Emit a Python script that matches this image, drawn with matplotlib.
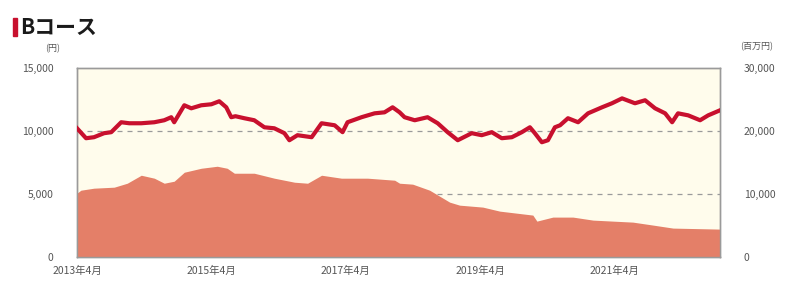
import pandas as pd
import matplotlib
matplotlib.use("Agg")
import matplotlib.pyplot as plt
from matplotlib.patches import Rectangle

plt.rcParams["font.family"] = ["Noto Sans CJK JP", "DejaVu Sans"]

# NAV (left axis, yen)
nav_dates = ["2013-04-01", "2013-05-20", "2013-07-02", "2013-08-26", "2013-10-04",
             "2013-11-27", "2014-01-10", "2014-03-16", "2014-05-26", "2014-07-19",
             "2014-08-26", "2014-09-11", "2014-11-05", "2014-12-13", "2015-02-05",
             "2015-04-01", "2015-05-14", "2015-06-21", "2015-07-18", "2015-08-10",
             "2015-09-27", "2015-11-20", "2016-01-14", "2016-03-08", "2016-05-02",
             "2016-05-29", "2016-07-12", "2016-09-27", "2016-11-20", "2017-01-30",
             "2017-03-14", "2017-04-10", "2017-06-25", "2017-09-04", "2017-10-28",
             "2017-12-11", "2018-01-18", "2018-02-14", "2018-04-10", "2018-06-19",
             "2018-08-13", "2018-10-06", "2018-11-30", "2019-02-14", "2019-04-09",
             "2019-06-03", "2019-07-27", "2019-09-20", "2019-11-13", "2019-12-27",
             "2020-01-23", "2020-03-01", "2020-04-03", "2020-05-11", "2020-06-08",
             "2020-07-21", "2020-09-14", "2020-11-07", "2021-01-22", "2021-03-17",
             "2021-05-11", "2021-07-20", "2021-09-13", "2021-11-06", "2021-12-31",
             "2022-02-07", "2022-03-11", "2022-05-05", "2022-07-09", "2022-08-22",
             "2022-10-25"]
nav_values = [10240, 9450, 9530, 9850, 9930, 10720, 10640, 10640, 10720, 10880,
              11120, 10720, 12070, 11830, 12070, 12150, 12390, 11910, 11120, 11200,
              11040, 10880, 10320, 10240, 9850, 9290, 9690, 9530, 10640, 10480,
              9930, 10720, 11120, 11430, 11510, 11910, 11510, 11120, 10880, 11120,
              10640, 9930, 9290, 9850, 9690, 9930, 9450, 9530, 9930, 10320,
              9850, 9130, 9290, 10320, 10480, 11040, 10720, 11430, 11910, 12230,
              12620, 12230, 12470, 11830, 11430, 10720, 11430, 11270, 10880, 11270,
              11670]

# Net assets (right axis, million yen)
aum_dates = ["2013-04-01", "2013-04-22", "2013-07-02", "2013-10-20", "2013-12-30",
             "2014-03-16", "2014-05-26", "2014-07-19", "2014-09-11", "2014-11-05",
             "2015-02-05", "2015-05-03", "2015-06-26", "2015-08-04", "2015-11-20",
             "2016-03-08", "2016-06-26", "2016-09-05", "2016-11-20", "2017-03-08",
             "2017-07-28", "2017-12-22", "2018-01-18", "2018-03-30", "2018-06-30",
             "2018-10-17", "2018-12-10", "2019-04-15", "2019-07-16", "2020-01-12",
             "2020-02-03", "2020-04-30", "2020-08-17", "2020-12-04", "2021-07-09",
             "2021-10-26", "2022-02-12", "2022-10-25"]
aum_values = [10160, 10630, 10950, 11110, 11740, 13010, 12540, 11740, 12060, 13490,
              14120, 14440, 14120, 13330, 13330, 12540, 11900, 11740, 13010, 12540,
              12540, 12220, 11740, 11590, 10630, 8730, 8250, 7940, 7300, 6670,
              5710, 6350, 6350, 5870, 5550, 5080, 4600, 4440]

left_ticks = [0, 5000, 10000, 15000]
right_ticks = [0, 10000, 20000, 30000]
x_ticks = ["2013-04-01", "2015-04-01", "2017-04-01", "2019-04-01", "2021-04-01"]
x_labels = ["2013年4月", "2015年4月", "2017年4月", "2019年4月", "2021年4月"]

nav_x = pd.to_datetime(nav_dates)
aum_x = pd.to_datetime(aum_dates)

fig = plt.figure(figsize=(7.86, 2.84), dpi=100)
ax = fig.add_axes([0.098, 0.095, 0.818, 0.664])
ax2 = ax.twinx()
ax.set_facecolor("#FFFCEC")

# dashed guides sit under the area
for v in [5000, 10000]:
    ax.axhline(v, color="#9A9A9A", ls=(0, (4, 4)), lw=0.9, zorder=1)

ax2.fill_between(aum_x, aum_values, 0, color="#E47F68", lw=0, zorder=2)
# NAV scaled onto the right axis so it is drawn above the area
ax2.plot(nav_x, [v * 2 for v in nav_values], color="#C8102E", lw=3.0,
         solid_joinstyle="round", zorder=3)

ax.set_ylim(0, 15000)
ax2.set_ylim(0, 30000)
ax.set_xlim(nav_x[0], nav_x[-1])

ax.set_yticks(left_ticks)
ax.set_yticklabels([f"{v:,}" for v in left_ticks])
ax2.set_yticks(right_ticks)
ax2.set_yticklabels([f"{v:,}" for v in right_ticks])
ax.set_xticks(pd.to_datetime(x_ticks))
ax.set_xticklabels(x_labels)

for a in (ax, ax2):
    a.tick_params(length=0, labelsize=7.5, labelcolor="#555555")
    for s in a.spines.values():
        s.set_color("#9A9A9A")
        s.set_linewidth(1.0)
ax.tick_params(axis="y", pad=17)
ax2.tick_params(axis="y", pad=17)
ax.tick_params(axis="x", pad=6)

fig.text(0.076, 0.827, "(円)", fontsize=6.5, color="#555555", ha="right", va="center")
fig.text(0.963, 0.835, "(百万円)", fontsize=6.5, color="#555555", ha="center", va="center")

fig.patches.append(Rectangle((0.016, 0.874), 0.0055, 0.063, transform=fig.transFigure,
                             color="#C8102E", figure=fig))
fig.text(0.025, 0.903, "Bコース", fontsize=15, fontweight="bold", color="#1A1A1A",
         ha="left", va="center")

fig.savefig("out.png", dpi=100)
